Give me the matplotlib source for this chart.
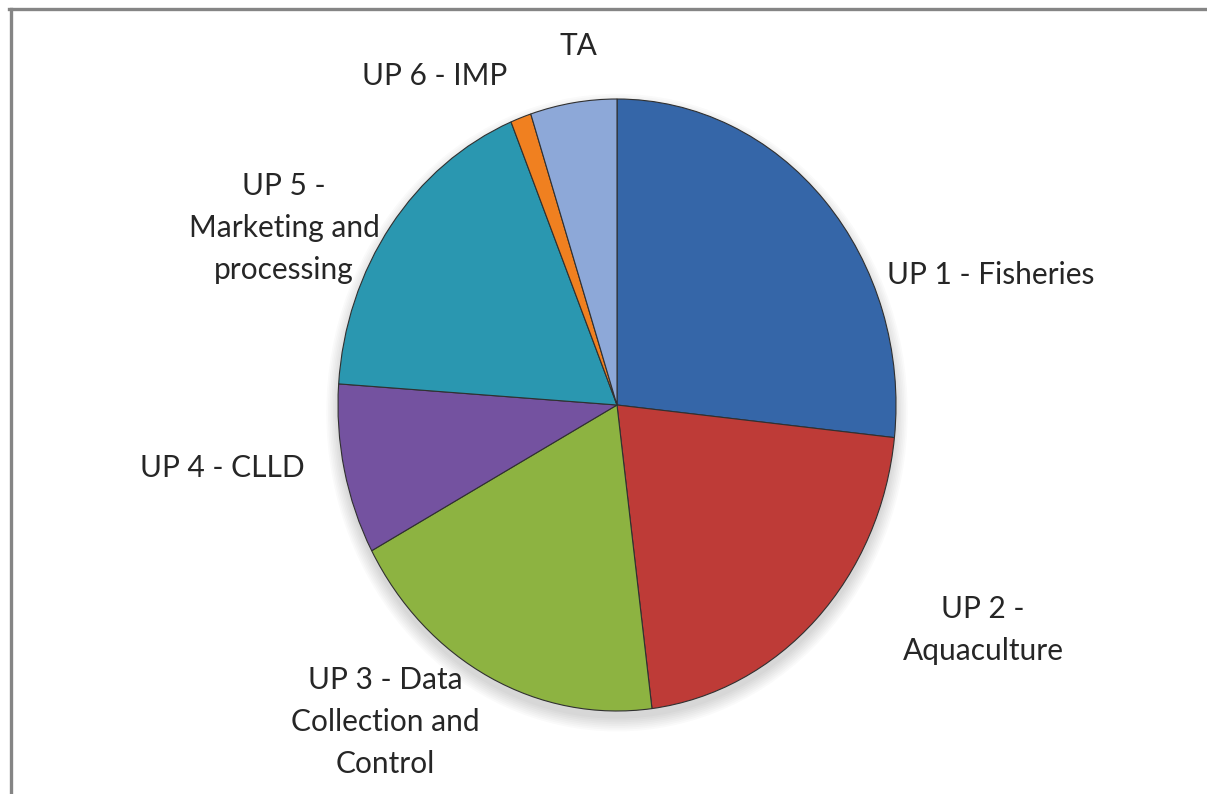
import matplotlib
matplotlib.use('Agg')
import matplotlib.pyplot as plt
from matplotlib.patches import Ellipse
from matplotlib.lines import Line2D

# shares of the budget (percent), clockwise from 12 o'clock
labels = ['UP 1 - Fisheries', 'UP 2 -\nAquaculture', 'UP 3 - Data\nCollection and\nControl',
          'UP 4 - CLLD', 'UP 5 -\nMarketing and\nprocessing', 'UP 6 - IMP', 'TA']
shares = [26.7, 21.3, 19.1, 9.0, 17.7, 1.2, 5.0]
colors = ['#3566A8', '#BE3B37', '#8DB341', '#7452A0', '#2A97B0', '#F08020', '#8DA8D8']

# label centres in pixels of the 1207x794 picture
label_pos = [(991, 275), (983, 630), (385, 722), (222, 468), (284, 228), (435, 76), (578, 46)]

W, H = 1207, 794
cx, cy = 617, 405      # pie centre, px
rx, ry = 279, 306      # pie is a bit stretched vertically

def to_data(x, y):
    return (x - cx) / rx, (cy - y) / ry

fig = plt.figure(figsize=(W / 100, H / 100), dpi=100)
ax = fig.add_axes([0, 0, 1, 1])

# soft shadow under the pie
for i in range(8):
    ax.add_patch(Ellipse((0, -0.025), 2 + 0.012 * i, 2 + 0.012 * i, facecolor='#000000',
                         alpha=0.018, edgecolor='none', zorder=0))

wedges, _ = ax.pie(shares, colors=colors, startangle=90, counterclock=False,
                   wedgeprops=dict(edgecolor='#303030', linewidth=0.8))
for w in wedges:
    w.set_zorder(2)

ax.set_aspect('auto')
x0, _ = to_data(0, 0)
x1, _ = to_data(W, 0)
ax.set_xlim(x0, x1)
ax.set_ylim((cy - H) / ry, cy / ry)
ax.axis('off')

for lab, (px, py) in zip(labels, label_pos):
    tx, ty = to_data(px, py)
    ax.text(tx, ty, lab, ha='center', va='center', fontsize=21.5, family='Lato',
            color='#262626', linespacing=1.6, multialignment='center')

# chart frame: only the top and left sides show
fig.add_artist(Line2D([10.5 / W, 10.5 / W], [0, 1 - 8.5 / H], transform=fig.transFigure,
                      color='#858585', linewidth=2.4))
fig.add_artist(Line2D([9 / W, 1], [1 - 8.5 / H, 1 - 8.5 / H], transform=fig.transFigure,
                      color='#858585', linewidth=2.4))

fig.savefig('out.png', dpi=100, facecolor='white')
